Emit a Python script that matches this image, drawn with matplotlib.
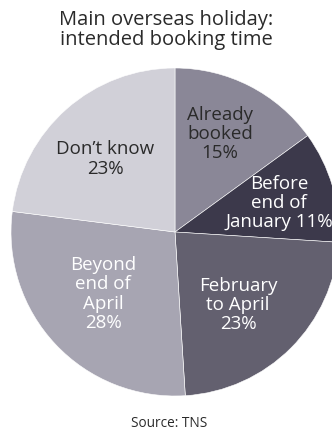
import matplotlib
matplotlib.use('Agg')
import matplotlib.pyplot as plt

labels = ['Already\nbooked\n15%', 'Before\nend of\nJanuary 11%', 'February\nto April\n23%',
          'Beyond\nend of\nApril\n28%', 'Don\u2019t know\n23%']
shares = [15, 11, 23, 28, 23]
colors = ['#8a8797', '#3c394b', '#63606f', '#a7a5b2', '#d1d0d8']
text_colors = ['#2a2a2a', 'white', 'white', 'white', '#2a2a2a']
# label centres in pixel units (x from left, y from top)
label_pos = [(220, 134), (279, 203), (238, 305), (103, 294), (105, 159)]

plt.rcParams['font.family'] = ['Open Sans', 'DejaVu Sans']

W, H = 332, 439
fig = plt.figure(figsize=(W / 100, H / 100), dpi=100)
ax = fig.add_axes([0, 0, 1, 1])

ax.pie(shares, colors=colors, startangle=90, counterclock=False,
       center=(175, H - 233), radius=164, frame=True,
       wedgeprops=dict(edgecolor='white', linewidth=0.4))
ax.set_xlim(0, W)
ax.set_ylim(0, H)
ax.set_aspect('equal')
ax.axis('off')

for lab, (px, py), tc in zip(labels, label_pos, text_colors):
    ax.text(px, H - py, lab, ha='center', va='center', multialignment='center',
            fontsize=13.5, color=tc, linespacing=1.1)

fig.text(0.5, 1 - 30 / H, 'Main overseas holiday:\nintended booking time', ha='center',
         va='center', fontsize=14.5, color='#2a2a2a', linespacing=1.05)
fig.text(169 / W, 1 - 424 / H, 'Source: TNS', ha='center', va='center',
         fontsize=9.8, color='#2a2a2a')

fig.savefig('out.png', dpi=100)
